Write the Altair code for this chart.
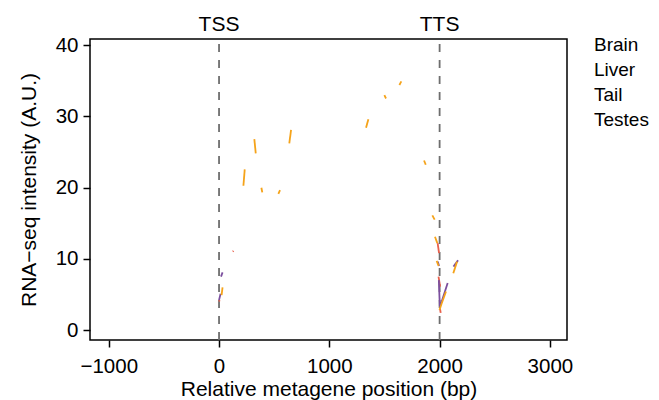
import altair as alt
import pandas as pd

# ---- data ----
tissues = ["Brain", "Liver", "Tail", "Testes"]
tissue_colors = ["#E8604C", "#3B9AB2", "#7B4F9E", "#F5A31A"]

# each segment: list of (position bp, intensity)
brain_segments = [
    [(1, 4.0), (4, 4.2)],
    [(125, 11.0), (131, 11.1)],
    [(1982, 12.2), (1995, 10.8)],
    [(1990, 7.5), (2005, 6.1)],
    [(2003, 3.0), (2010, 2.4)],
]
liver_segments = []
tail_segments = [
    [(0, 4.2), (14, 5.1)],
    [(18, 7.5), (32, 8.1)],
    [(1983, 9.6), (1995, 9.0)],
    [(1993, 7.0), (2002, 3.3), (2019, 4.0), (2073, 6.6)],
    [(2126, 8.9), (2167, 9.8)],
]
testes_segments = [
    [(23, 4.9), (32, 6.0)],
    [(221, 20.25), (233, 22.55)],
    [(320, 26.8), (333, 24.8)],
    [(384, 19.97), (392, 19.33)],
    [(538, 19.1), (553, 19.65)],
    [(637, 26.2), (653, 28.1)],
    [(1333, 28.4), (1354, 29.6)],
    [(1499, 32.96), (1514, 32.5)],
    [(1635, 34.4), (1653, 34.9)],
    [(1859, 23.8), (1874, 23.2)],
    [(1934, 16.1), (1955, 15.5)],
    [(1958, 13.1), (1979, 12.2)],
    [(1973, 9.7), (1991, 9.0)],
    [(1999, 2.8), (2017, 3.65), (2058, 5.4)],
    [(2124, 7.96), (2158, 9.6)],
]

marker_labels = ["TSS", "TTS"]
marker_positions = [0, 2000]

x_ticks = [-1000, 0, 1000, 2000, 3000]
y_ticks = [0, 10, 20, 30, 40]

# ---- build table ----
rows = []
for tissue, segs in zip(tissues, [brain_segments, liver_segments, tail_segments, testes_segments]):
    for i, seg in enumerate(segs):
        for order, (x, y) in enumerate(seg):
            rows.append({"tissue": tissue, "seg": f"{tissue}-{i}", "order": order, "pos": x, "val": y})
df = pd.DataFrame(rows)
markers = pd.DataFrame({"label": marker_labels, "pos": marker_positions})

FONT = "Liberation Sans"
TICK_FS = 20.5
TITLE_FS = 21
LEG_FS = 19

x_scale = alt.Scale(domain=[-1170, 3155], nice=False, zero=False)
y_scale = alt.Scale(domain=[-1.4, 40.85], nice=False, zero=False)

lines = alt.Chart(df).mark_line(strokeWidth=1.8, strokeCap="butt").encode(
    x=alt.X("pos:Q", scale=x_scale,
            axis=alt.Axis(values=x_ticks, format="d", title="Relative metagene position (bp)",
                          labelPadding=9, titlePadding=2)),
    y=alt.Y("val:Q", scale=y_scale,
            axis=alt.Axis(values=y_ticks, format="d", title="RNA\u2212seq intensity (A.U.)",
                          labelPadding=5, titlePadding=16)),
    color=alt.Color("tissue:N",
                    scale=alt.Scale(domain=tissues, range=tissue_colors),
                    legend=alt.Legend(title=None, orient="none", legendX=485, legendY=-4,
                                      symbolOpacity=0, symbolSize=0, symbolStrokeWidth=0,
                                      labelOffset=0, labelFont=FONT, labelFontSize=LEG_FS,
                                      labelColor="black", rowPadding=5)),
    detail="seg:N",
    order="order:Q",
)

vlines = alt.Chart(markers).mark_rule(color="#6e6e6e", strokeWidth=1.8, strokeDash=[8, 8]).encode(
    x=alt.X("pos:Q", scale=x_scale),
    y=alt.value(301),
    y2=alt.value(0),
)

texts = alt.Chart(markers).mark_text(font=FONT, fontSize=TITLE_FS, baseline="alphabetic",
                                     align="center", color="black").encode(
    x=alt.X("pos:Q", scale=x_scale),
    y=alt.value(-8),
    text="label:N",
)

chart = alt.layer(vlines, lines, texts).properties(
    width=477, height=301,
    autosize=alt.AutoSizeParams(type="none"),
    padding={"left": 82, "top": 31, "right": 84, "bottom": 60},
).configure_view(
    stroke="black", strokeWidth=1.5
).configure_axis(
    domain=False, grid=False, tickColor="black", tickWidth=1.5, tickSize=7,
    labelFont=FONT, labelFontSize=TICK_FS, labelColor="black",
    titleFont=FONT, titleFontSize=TITLE_FS, titleFontWeight="normal", titleColor="black",
)

chart.save("out.html", embed_options={"renderer": "svg", "actions": False})
